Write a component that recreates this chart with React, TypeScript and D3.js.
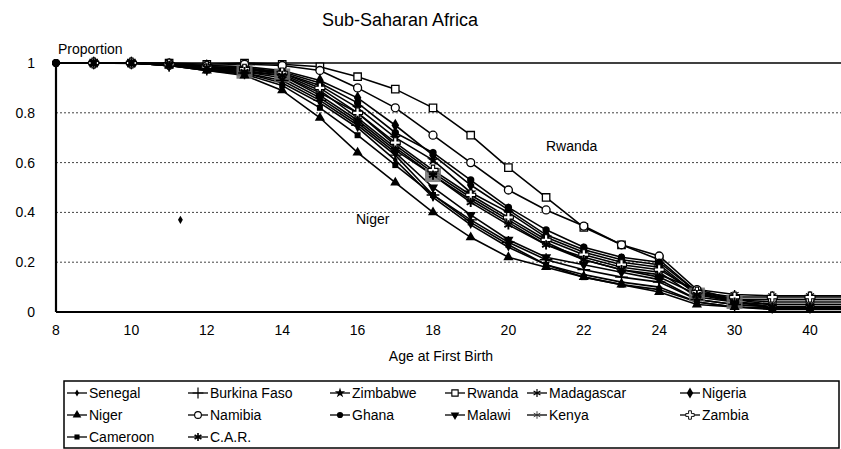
import React from "react";
import * as d3 from "d3";

const categories = ["8","9","10","11","12","13","14","15","16","17","18","19","20","21","22","23","24","25","30","35","40","45"];
const tickLabels = ["8","10","12","14","16","18","20","22","24","30","40"];
const yTicks = [0, 0.2, 0.4, 0.6, 0.8, 1];

const senegal    = [1,1,1,0.99,0.97,0.96,0.92,0.84,0.74,0.61,0.46,0.35,0.26,0.19,0.15,0.12,0.10,0.04,0.02,0.015,0.015,0.015];
const burkina    = [1,1,1,0.99,0.975,0.96,0.93,0.85,0.75,0.63,0.47,0.37,0.28,0.21,0.17,0.14,0.12,0.05,0.03,0.02,0.02,0.02];
const zimbabwe   = [1,1,1,0.995,0.985,0.98,0.96,0.91,0.82,0.70,0.61,0.48,0.40,0.30,0.24,0.20,0.18,0.07,0.05,0.05,0.05,0.05];
const rwanda     = [1,1,1,1,0.995,1.0,0.995,0.985,0.945,0.895,0.82,0.71,0.58,0.46,0.34,0.27,0.21,0.08,0.05,0.04,0.04,0.04];
const madagascar = [1,1,1,0.993,0.98,0.97,0.95,0.88,0.80,0.67,0.56,0.46,0.37,0.28,0.21,0.17,0.15,0.09,0.07,0.065,0.065,0.065];
const nigeria    = [1,1,1,0.995,0.99,0.985,0.97,0.93,0.86,0.75,0.63,0.51,0.41,0.31,0.25,0.21,0.19,0.07,0.05,0.03,0.03,0.03];
const niger      = [1,1,1,0.99,0.97,0.95,0.89,0.78,0.64,0.52,0.40,0.30,0.22,0.18,0.14,0.11,0.08,0.03,0.02,0.01,0.01,0.01];
const namibia    = [1,1,1,0.998,0.99,0.995,0.99,0.97,0.90,0.82,0.71,0.60,0.49,0.41,0.345,0.27,0.225,0.09,0.05,0.05,0.05,0.05];
const ghana      = [1,1,0.998,0.995,0.985,0.98,0.965,0.92,0.84,0.72,0.64,0.53,0.42,0.33,0.26,0.22,0.20,0.08,0.04,0.02,0.02,0.02];
const malawi     = [1,1,1,0.99,0.975,0.965,0.94,0.86,0.76,0.64,0.50,0.39,0.29,0.22,0.19,0.16,0.13,0.05,0.03,0.02,0.02,0.02];
const kenya      = [1,1,1,0.993,0.98,0.975,0.955,0.89,0.78,0.66,0.55,0.45,0.36,0.27,0.22,0.18,0.16,0.06,0.04,0.03,0.03,0.03];
const zambia     = [1,1,1,0.995,0.985,0.975,0.96,0.90,0.80,0.68,0.57,0.47,0.38,0.29,0.23,0.19,0.17,0.08,0.06,0.06,0.06,0.06];
const cameroon   = [1,1,1,0.99,0.97,0.955,0.91,0.82,0.71,0.59,0.47,0.36,0.27,0.19,0.14,0.11,0.09,0.04,0.02,0.015,0.015,0.015];
const car        = [1,1,1,0.99,0.98,0.965,0.95,0.87,0.77,0.65,0.55,0.44,0.35,0.27,0.21,0.17,0.14,0.07,0.04,0.02,0.02,0.02];

const carShadedIdx = [5, 6, 10, 17, 18];
const strayPoints = [{ idx: 3.3, v: 0.37 }];

type Mk = "smallDiamond"|"plus"|"star"|"openSquare"|"times"|"diamond"|"triangle"|"openCircle"|"circle"|"downTriangle"|"openAsterisk"|"openCross"|"square"|"carStar";

const series: { name: string; values: number[]; marker: Mk }[] = [
  { name: "Senegal", values: senegal, marker: "smallDiamond" },
  { name: "Burkina Faso", values: burkina, marker: "plus" },
  { name: "Zimbabwe", values: zimbabwe, marker: "star" },
  { name: "Rwanda", values: rwanda, marker: "openSquare" },
  { name: "Madagascar", values: madagascar, marker: "times" },
  { name: "Nigeria", values: nigeria, marker: "diamond" },
  { name: "Niger", values: niger, marker: "triangle" },
  { name: "Namibia", values: namibia, marker: "openCircle" },
  { name: "Ghana", values: ghana, marker: "circle" },
  { name: "Malawi", values: malawi, marker: "downTriangle" },
  { name: "Kenya", values: kenya, marker: "openAsterisk" },
  { name: "Zambia", values: zambia, marker: "openCross" },
  { name: "Cameroon", values: cameroon, marker: "square" },
  { name: "C.A.R.", values: car, marker: "carStar" },
];

const FONT = "'Liberation Sans', Arial, sans-serif";

function Marker({ type, x, y }: { type: Mk; x: number; y: number }) {
  const t = `translate(${x},${y})`;
  const sym = (s: d3.SymbolType, size: number) => d3.symbol().type(s).size(size)() as string;
  switch (type) {
    case "smallDiamond":
      return <path transform={t} d={sym(d3.symbolDiamond, 20)} fill="#000" />;
    case "plus":
      return <path transform={t} d={sym(d3.symbolPlus, 55)} fill="none" stroke="#000" strokeWidth={1.4} />;
    case "star":
      return <path transform={t} d={sym(d3.symbolStar, 45)} fill="#000" />;
    case "openSquare":
      return <path transform={t} d={sym(d3.symbolSquare, 55)} fill="#fff" stroke="#000" strokeWidth={1.3} />;
    case "times":
      return <path transform={t} d={sym(d3.symbolAsterisk, 60)} fill="none" stroke="#000" strokeWidth={1.4} />;
    case "diamond":
      return <path transform={t} d={sym(d3.symbolDiamond, 50)} fill="#000" />;
    case "triangle":
      return <path transform={t} d={sym(d3.symbolTriangle, 45)} fill="#000" />;
    case "openCircle":
      return <path transform={t} d={sym(d3.symbolCircle, 50)} fill="#fff" stroke="#000" strokeWidth={1.3} />;
    case "circle":
      return <path transform={t} d={sym(d3.symbolCircle, 42)} fill="#000" />;
    case "downTriangle":
      return <path transform={`${t} rotate(180)`} d={sym(d3.symbolTriangle, 45)} fill="#000" />;
    case "openAsterisk":
      return <path transform={t} d={sym(d3.symbolAsterisk, 55)} fill="none" stroke="#333" strokeWidth={1.1} />;
    case "openCross":
      return <path transform={t} d={sym(d3.symbolCross, 55)} fill="#fff" stroke="#000" strokeWidth={1.1} />;
    case "square":
      return <path transform={t} d={sym(d3.symbolSquare, 36)} fill="#000" />;
    case "carStar":
      return <path transform={t} d={sym(d3.symbolAsterisk, 60)} fill="none" stroke="#000" strokeWidth={1.9} />;
  }
  return null;
}

export default function App() {
  const W = 841, H = 449;
  const x = d3.scaleLinear().domain([0, 20]).range([56, 810]);
  const y = d3.scaleLinear().domain([0, 1]).range([312, 63]);
  const line = d3.line<number>().x((_, i) => x(i)).y((d) => y(d));

  const legendCols = [67, 188, 330, 445, 527, 680];
  const legendRows = [393, 415, 437];

  return (
    <svg width={W} height={H} style={{ position: "absolute", left: 0, top: 0, background: "#fff" }} fontFamily={FONT}>
      <defs>
        <clipPath id="plotClip">
          <rect x={40} y={40} width={W - 40} height={290} />
        </clipPath>
      </defs>
      <rect width={W} height={H} fill="#fff" />
      <text x={400} y={26} textAnchor="middle" fontSize={18}>Sub-Saharan Africa</text>
      <text x={58} y={54} fontSize={14}>Proportion</text>

      {yTicks.filter((t) => t > 0 && t < 1).map((t) => (
        <line key={t} x1={56} x2={W} y1={y(t)} y2={y(t)} stroke="#444" strokeWidth={1} strokeDasharray="2,2" />
      ))}
      <line x1={56} x2={W} y1={y(1)} y2={y(1)} stroke="#000" strokeWidth={1.6} />
      <line x1={56} x2={W} y1={y(0)} y2={y(0)} stroke="#000" strokeWidth={2.2} />
      <line x1={56} x2={56} y1={y(1)} y2={y(0)} stroke="#000" strokeWidth={2.2} />

      {yTicks.map((t) => (
        <text key={t} x={35} y={y(t)} dy="0.35em" textAnchor="end" fontSize={14}>{t === 0 || t === 1 ? String(t) : t.toFixed(1)}</text>
      ))}
      {categories.map((c, i) => tickLabels.includes(c) && i <= 20 ? (
        <text key={c} x={x(i)} y={335} textAnchor="middle" fontSize={14}>{c}</text>
      ) : null)}
      <text x={441} y={361} textAnchor="middle" fontSize={14}>Age at First Birth</text>

      <g clipPath="url(#plotClip)">
        {series.map((s) => (
          <path key={s.name} d={line(s.values) as string} fill="none" stroke="#000" strokeWidth={1.6} />
        ))}
        {carShadedIdx.map((i) => (
          <rect key={"g" + i} x={x(i) - 8} y={y(car[i]) - 7} width={16} height={14} fill="#6f6f6f" opacity={0.85} />
        ))}
        {series.map((s) => (
          <g key={s.name + "m"}>
            {s.values.map((v, i) => (i > 0 && i < 21 ? <Marker key={i} type={s.marker} x={x(i)} y={y(v)} /> : null))}
          </g>
        ))}
        {series.map((s) => <Marker key={s.name + "0"} type="circle" x={x(0)} y={y(s.values[0])} />)}
        {strayPoints.map((p, k) => <Marker key={"s" + k} type="smallDiamond" x={x(p.idx)} y={y(p.v)} />)}
      </g>

      <text x={546} y={151} fontSize={14}>Rwanda</text>
      <text x={356} y={224} fontSize={14}>Niger</text>

      <rect x={64} y={381} width={775} height={67} fill="none" stroke="#000" strokeWidth={1.5} />
      {series.map((s, k) => {
        const cx = legendCols[k % 6];
        const cy = legendRows[Math.floor(k / 6)];
        return (
          <g key={"l" + s.name}>
            <line x1={cx} x2={cx + 20} y1={cy} y2={cy} stroke="#000" strokeWidth={1.3} />
            <g transform={`translate(${cx + 10},${cy}) scale(0.85) translate(${-(cx + 10)},${-cy})`}>
              <Marker type={s.marker} x={cx + 10} y={cy} />
            </g>
            <text x={cx + 22} y={cy} dy="0.35em" fontSize={14}>{s.name}</text>
          </g>
        );
      })}
    </svg>
  );
}
